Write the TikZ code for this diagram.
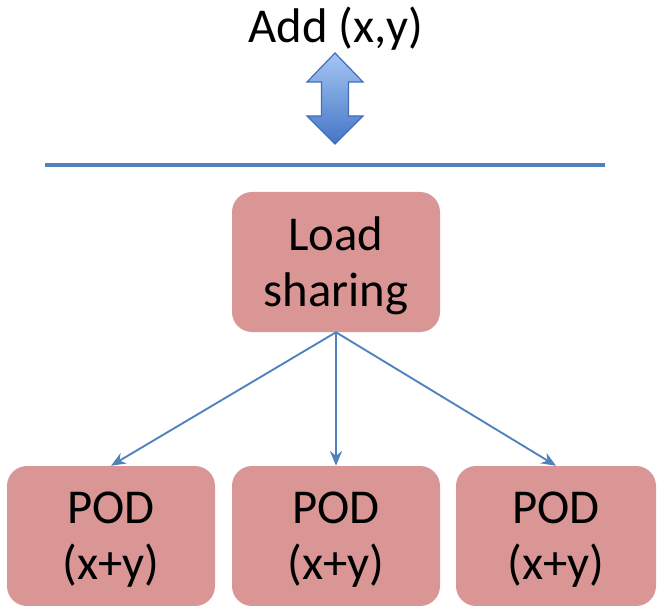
\documentclass[tikz,border=0pt]{standalone}
\usepackage{fontspec}
\setmainfont{Carlito}
\usetikzlibrary{arrows.meta}

\definecolor{boxred}{RGB}{217,150,148}
\definecolor{lineblue}{RGB}{79,129,189}
\definecolor{arrowlight}{RGB}{165,198,242}
\definecolor{arrowdark}{RGB}{68,118,198}
\definecolor{arrowedge}{RGB}{65,110,185}

\begin{document}
\begin{tikzpicture}[x=0.75pt,y=-0.75pt]
        \tikzstyle{every node}=[font=\fontsize{36.5}{42}\selectfont,align=center,inner sep=0pt]
        \tikzstyle{box}=[fill=boxred,rounded corners=15pt,minimum width=156pt,minimum height=105pt,text depth=-3pt]
        \tikzstyle{link}=[draw=lineblue,line width=1.4pt,-{Stealth[length=11pt,width=9pt]}]
        \useasboundingbox (0,0) rectangle (657,606);

        % request
        \node (add) at (336,29) {Add (x,y)};
        \coordinate (updown) at (335,98);
        \shade[top color=arrowlight,bottom color=arrowdark,draw=arrowedge,line width=0.9pt]
            (updown) ++(0,-45) -- ++(28,29) -- ++(-14.5,0) -- ++(0,34) -- ++(14.5,0)
            -- ++(-28,28) -- ++(-28,-28) -- ++(14.5,0) -- ++(0,-34) -- ++(-14.5,0) -- cycle;

        % bus
        \coordinate (busleft) at (45,165);
        \coordinate (busright) at (605,165);
        \draw[lineblue,line width=3pt] (busleft) -- (busright);

        % load sharing
        \node[box] (loadshare) at (336,262) {Load\\sharing};

        % pods
        \node[box] (pod1) at (111,536) {POD\\(x+y)};
        \node[box] (pod2) at (336,536) {POD\\(x+y)};
        \node[box,minimum width=150pt] (pod3) at (556,536) {POD\\(x+y)};

        \draw[link] (loadshare.south) -- (pod1.north);
        \draw[link] (loadshare.south) -- (pod2.north);
        \draw[link] (loadshare.south) -- (pod3.north);

    \end{tikzpicture}
\end{document}
